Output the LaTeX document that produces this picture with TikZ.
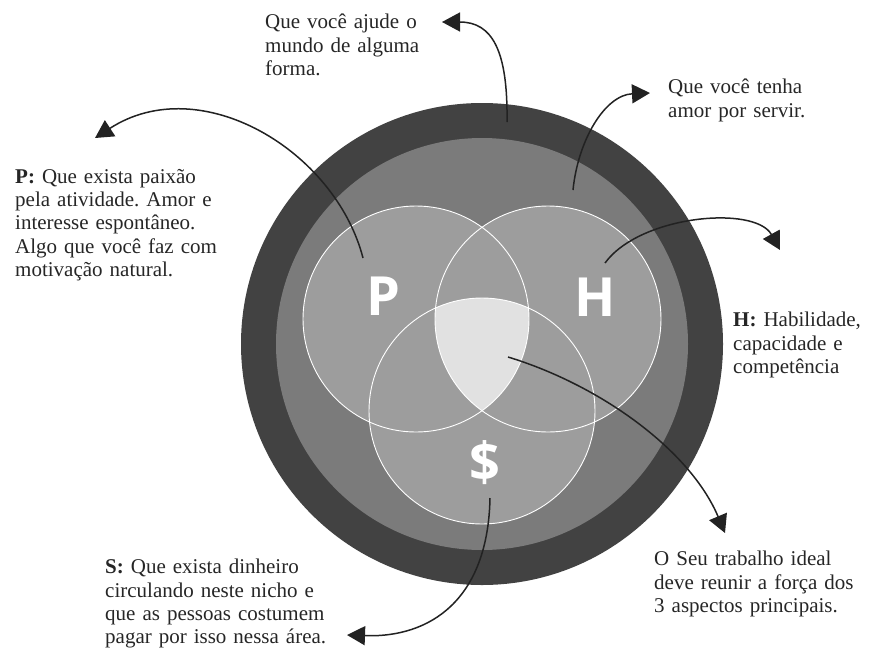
\documentclass[tikz,border=0pt]{standalone}
\usepackage{fontspec}
\setmainfont{Liberation Serif}
\newfontfamily\vennfont{Open Sans}
\usetikzlibrary{arrows.meta}
\usetikzlibrary{positioning}

\definecolor{ringDark}{HTML}{424242}
\definecolor{ringMid}{HTML}{7B7B7B}
\definecolor{vennGray}{HTML}{9D9D9D}
\definecolor{coreLight}{HTML}{E1E1E1}
\definecolor{arrowInk}{HTML}{222222}
\definecolor{noteInk}{HTML}{262626}

\newcommand{\fullline}[1]{\leavevmode\hbox to \hsize{#1}}
\newcommand{\lastline}[1]{\leavevmode\hbox{#1}}

\begin{document}
\frenchspacing
\begin{tikzpicture}[
    x=1pt, y=-1pt,
    noteText/.style={
        anchor=north west, inner sep=0pt, text=noteInk,
        font=\fontsize{21}{23.3}\selectfont,
        align=left
    },
    vennLetter/.style={
        text=white, inner sep=0pt,
        font=\vennfont\bfseries\fontsize{54}{54}\selectfont
    },
    pointer/.style={
        draw=arrowInk, line width=1.5pt,
        -{Triangle[length=18pt,width=19pt]}
    }
]
\useasboundingbox (0,0) rectangle (870,651);

% rings and venn circles
\coordinate (ctr) at (482,344);
\coordinate (pC) at (416,319);
\coordinate (hC) at (548,319);
\coordinate (sC) at (482,411);
\fill[ringDark] (ctr) circle[radius=241pt];
\fill[ringMid] (ctr) circle[radius=206pt];
\fill[vennGray] (pC) circle[radius=113pt] (hC) circle[radius=113pt] (sC) circle[radius=113pt];
\begin{scope}
    \clip (pC) circle[radius=113pt];
    \clip (hC) circle[radius=113pt];
    \fill[coreLight] (sC) circle[radius=113pt];
\end{scope}
\draw[white, line width=0.9pt] (pC) circle[radius=113pt];
\draw[white, line width=0.9pt] (hC) circle[radius=113pt];
\draw[white, line width=0.9pt] (sC) circle[radius=113pt];

\node[vennLetter] (pLetter) at (383,296) {P};
\node[vennLetter] (hLetter) at (595,297) {H};
\node[vennLetter] (sLetter) at (485,463) {\$};

% notes
\node[noteText, text width=167pt] (worldNote) at (265,14)
    {\fullline{Que você ajude o}\\\fullline{mundo de alguma}\\\lastline{forma.}};
\node[noteText, text width=145pt] (serveNote) at (668,79)
    {\lastline{Que você tenha}\\\lastline{amor por servir.}};
\node[noteText, text width=205pt] (passionNote) at (15,169)
    {\fullline{\textbf{P:} Que exista paixão}\\\fullline{pela atividade. Amor e}\\\fullline{interesse espontâneo.}\\\fullline{Algo que você faz com}\\\lastline{motivação natural.}};
\node[noteText, text width=135pt] (skillNote) at (733,312)
    {\fullline{\textbf{H:} Habilidade,}\\\fullline{capacidade e}\\\lastline{competência}};
\node[noteText, text width=216pt] (moneyNote) at (105,559)
    {\fullline{\textbf{S:} Que exista dinheiro}\\\fullline{circulando neste nicho e}\\\fullline{que as pessoas costumem}\\\lastline{pagar por isso nessa área.}};
\node[noteText, text width=198pt] (idealNote) at (654,551)
    {\fullline{O Seu trabalho ideal}\\\fullline{deve reunir a força dos}\\\lastline{3 aspectos principais.}};

% pointers
\coordinate (worldStart) at (507,122);
\coordinate (worldTip) at (442,22);
\coordinate (serveStart) at (573,190);
\coordinate (serveTip) at (650,93);
\coordinate (passionStart) at (363,258);
\coordinate (passionTip) at (95,138);
\coordinate (skillStart) at (605,263);
\coordinate (skillTip) at (780,250);
\coordinate (idealStart) at (508,357);
\coordinate (idealTip) at (725,533);
\coordinate (moneyStart) at (490,498);
\coordinate (moneyTip) at (347,635);
\draw[pointer] (worldStart) .. controls (508,50) and (492,22) .. (worldTip);
\draw[pointer] (serveStart) .. controls (578,140) and (605,95) .. (serveTip);
\draw[pointer] (passionStart) .. controls (335,150) and (200,70) .. (passionTip);
\draw[pointer] (skillStart) .. controls (640,215) and (755,205) .. (skillTip);
\draw[pointer] (idealStart) .. controls (600,385) and (690,450) .. (idealTip);
\draw[pointer] (moneyStart) .. controls (488,600) and (430,638) .. (moneyTip);
\end{tikzpicture}
\end{document}
